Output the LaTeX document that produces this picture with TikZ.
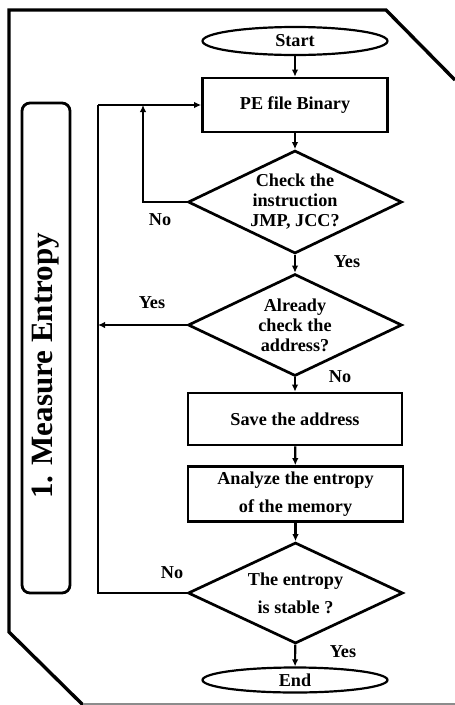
\documentclass[tikz,border=0pt]{standalone}
\usepackage{fontspec}
\setmainfont{Liberation Serif}
\usetikzlibrary{shapes.geometric,arrows.meta}

\tikzset{
  txt/.style={font=\bfseries\fontsize{18.2}{20}\selectfont, align=center},
  wide/.style={font=\bfseries\fontsize{18.2}{28}\selectfont},
  terminal/.style={ellipse, draw, line width=2.2pt, inner sep=0pt, txt},
  process/.style={rectangle, draw, line width=2.7pt, inner sep=0pt, txt},
  decision/.style={diamond, draw, line width=2.7pt, inner sep=0pt, aspect=2.1, txt},
  flow/.style={line width=2.2pt, -{Latex[length=7pt,width=6.5pt]}},
  plain/.style={line width=2.2pt},
  lbl/.style={txt, inner sep=0pt},
  frame/.style={line width=3.4pt, line join=miter},
}

\begin{document}
\begin{tikzpicture}[x=1pt, y=-1pt]
  \useasboundingbox (0,0) rectangle (455,705);

  % outer page frame with cut corners
  \draw[frame] (455,80) -- (386,10) -- (9,10) -- (9,632) -- (83,705);
  \draw[line width=1.2pt, black!45] (83,704) -- (455,704);

  % phase label on the left
  \node[draw, line width=2.8pt, rounded corners=8pt, minimum width=48pt,
        minimum height=490pt, inner sep=0pt] (phase) at (46,348) {};
  \node[rotate=90, font=\bfseries\fontsize{31}{34}\selectfont, inner sep=0pt]
        (phasetext) at (46,366) {1. Measure Entropy};

  % flowchart nodes
  \node[terminal, minimum width=185pt, minimum height=28pt] (start) at (295,41) {Start};
  \node[process, minimum width=185pt, minimum height=54pt] (pe) at (295,105) {PE file Binary};
  \node[decision, minimum width=214pt, minimum height=103pt] (d1) at (295,202)
        {Check the\\instruction\\JMP, JCC?};
  \node[decision, minimum width=214pt, minimum height=102pt] (d2) at (295,325)
        {Already\\check the\\address?};
  \node[process, minimum width=214pt, minimum height=52pt] (save) at (295,419) {Save the address};
  \node[process, wide, minimum width=215pt, minimum height=55pt] (analyze) at (295.5,494)
        {Analyze the entropy\\of the memory};
  \node[decision, wide, minimum width=215pt, minimum height=101pt] (d3) at (295.5,593)
        {The entropy\\is stable ?};
  \node[terminal, minimum width=185pt, minimum height=25pt] (end) at (295,680) {End};

  % loop-back helpers
  \coordinate (noA) at (143,105);
  \coordinate (rail) at (98,105);
  \coordinate (railMid) at (98,325);

  % main flow
  \draw[flow] (start) -- (pe);
  \draw[flow] (pe) -- (d1);
  \draw[flow] (d1) -- (d2);
  \draw[flow] (d2) -- (save);
  \draw[flow] (save) -- (analyze);
  \draw[flow] (analyze) -- (d3);
  \draw[flow] (d3) -- (end);

  % branches back to the top
  \draw[flow] (d1.west) -| (noA);
  \draw[plain] (d3.west) -| (rail);
  \draw[flow] (rail) -- (pe.west);
  \draw[flow] (d2.west) -- (railMid);

  % branch labels
  \node[lbl] (l1) at (160,220) {No};
  \node[lbl] (l2) at (347,262) {Yes};
  \node[lbl] (l3) at (152,303) {Yes};
  \node[lbl] (l4) at (340,377) {No};
  \node[lbl] (l5) at (172,573) {No};
  \node[lbl] (l6) at (343,652) {Yes};
\end{tikzpicture}
\end{document}
